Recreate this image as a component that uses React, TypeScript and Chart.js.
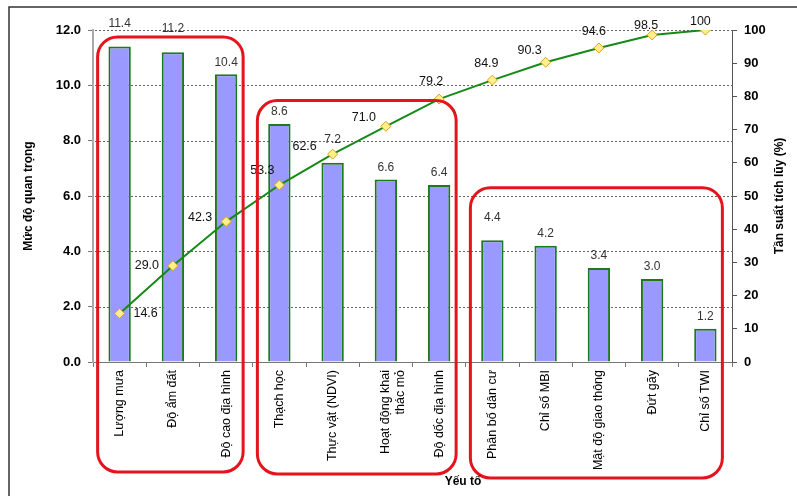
import React, { useEffect, useRef } from 'react';
import { Chart, registerables } from 'chart.js';

Chart.register(...registerables);

// ---- data ----
const categories: (string | string[])[] = [
  'Lượng mưa',
  'Độ ẩm đất',
  'Độ cao địa hình',
  'Thạch học',
  'Thực vật (NDVI)',
  ['Hoạt động khai', 'thác mỏ'],
  'Độ dốc địa hình',
  'Phân bố dân cư',
  'Chỉ số MBI',
  'Mật độ giao thông',
  'Đứt gãy',
  'Chỉ số TWI',
];
const importance = [11.4, 11.2, 10.4, 8.6, 7.2, 6.6, 6.4, 4.4, 4.2, 3.4, 3.0, 1.2];
const cumulative = [14.6, 29.0, 42.3, 53.3, 62.6, 71.0, 79.2, 84.9, 90.3, 94.6, 98.5, 100];
const cumulativeLabels = ['14.6', '29.0', '42.3', '53.3', '62.6', '71.0', '79.2', '84.9', '90.3', '94.6', '98.5', '100'];
const leftAxisMax = 12;
const leftAxisStep = 2;
const rightAxisMax = 100;
const rightAxisStep = 10;
// groups (category index ranges) outlined in red, top edge expressed in left-axis units
const groupFirst = [0, 3, 7];
const groupLast = [2, 6, 11];
const groupTopValue = [11.75, 9.45, 6.3];

// ---- styling (label placement) ----
const barLabelLift = [1, 1, 0, 0, 1, 0, 0, 1, 0, 0, 0, 0];
const lineLabelDx = [26, -26, -26, -17, -28, -22, -8, -6, -16, -5, -6, -5];
const lineLabelDy = [0, 0, -4, -14, -8, -9, -18, -17, -12, -16, -9, -8];
const groupBottomOffset = [110, 112, 116];

const FONT = '"Liberation Sans", Arial, sans-serif';

const gridPlugin = {
  id: 'dottedGrid',
  beforeDatasetsDraw(chart: any) {
    const ctx: CanvasRenderingContext2D = chart.ctx;
    const ys = chart.scales.y;
    const area = chart.chartArea;
    ctx.save();
    ctx.fillStyle = '#666';
    for (let v = leftAxisStep; v <= leftAxisMax; v += leftAxisStep) {
      const py = Math.round(ys.getPixelForValue(v));
      for (let px = Math.ceil(area.left) + 2; px < area.right; px += 4) {
        ctx.fillRect(px, py, 2, 1);
      }
    }
    ctx.restore();
  },
};

const overlayPlugin = {
  id: 'overlay',
  afterDraw(chart: any) {
    const ctx: CanvasRenderingContext2D = chart.ctx;
    const xs = chart.scales.x;
    const ys = chart.scales.y;
    const y1 = chart.scales.y1;
    const area = chart.chartArea;
    ctx.save();

    // bar value labels
    ctx.font = `12px ${FONT}`;
    ctx.fillStyle = '#333';
    ctx.textAlign = 'center';
    ctx.textBaseline = 'middle';
    importance.forEach((v, i) => {
      const px = xs.getPixelForValue(i);
      const py = ys.getPixelForValue(v) - 12 - barLabelLift[i] * 11;
      ctx.fillText(v.toFixed(1), px, py);
    });

    // cumulative labels
    ctx.font = `12.5px ${FONT}`;
    ctx.fillStyle = '#111';
    cumulative.forEach((v, i) => {
      const px = xs.getPixelForValue(i) + lineLabelDx[i];
      const py = y1.getPixelForValue(v) + lineLabelDy[i];
      ctx.fillText(cumulativeLabels[i], px, py);
    });

    // red rounded group outlines
    ctx.strokeStyle = '#E3141C';
    ctx.lineWidth = 3;
    groupFirst.forEach((f, g) => {
      const l = xs.getPixelForValue(f) - 22;
      const r = xs.getPixelForValue(groupLast[g]) + 17;
      const t = ys.getPixelForValue(groupTopValue[g]);
      const b = area.bottom + groupBottomOffset[g];
      ctx.beginPath();
      (ctx as any).roundRect(l, t, r - l, b - t, 20);
      ctx.stroke();
    });

    // axis titles
    ctx.fillStyle = '#000';
    ctx.font = `bold 12px ${FONT}`;
    const cy = (area.top + area.bottom) / 2;
    ctx.save();
    ctx.translate(29, cy);
    ctx.rotate(-Math.PI / 2);
    ctx.fillText('Mức độ quan trọng', 0, 0);
    ctx.restore();
    ctx.save();
    ctx.translate(780, cy);
    ctx.rotate(-Math.PI / 2);
    ctx.fillText('Tần suất tích lũy (%)', 0, 0);
    ctx.restore();
    ctx.fillText('Yếu tố', 463, 482);

    // frame
    ctx.strokeStyle = '#333';
    ctx.lineWidth = 1.5;
    ctx.beginPath();
    ctx.moveTo(9, chart.height);
    ctx.lineTo(9, 7);
    ctx.lineTo(chart.width, 7);
    ctx.stroke();

    ctx.restore();
  },
};

export default function App() {
  const ref = useRef<HTMLCanvasElement>(null);

  useEffect(() => {
    document.body.style.margin = '0';
    const canvas = ref.current;
    if (!canvas) return;
    Chart.defaults.font.family = FONT;
    const chart = new Chart(canvas, {
      data: {
        labels: categories,
        datasets: [
          {
            type: 'line',
            label: 'Tần suất tích lũy',
            data: cumulative,
            yAxisID: 'y1',
            order: 0,
            borderColor: '#168A16',
            borderWidth: 2,
            pointStyle: 'rectRot',
            pointRadius: 5,
            pointBackgroundColor: '#FFF08A',
            pointBorderColor: '#D9A21B',
            pointBorderWidth: 1,
            tension: 0,
          } as any,
          {
            type: 'bar',
            label: 'Mức độ quan trọng',
            data: importance,
            yAxisID: 'y',
            order: 1,
            backgroundColor: '#9999FF',
            borderColor: '#1B7A1B',
            borderWidth: 2,
            barPercentage: 0.42,
            categoryPercentage: 1,
          } as any,
        ],
      },
      options: {
        animation: false,
        responsive: false,
        maintainAspectRatio: false,
        layout: { padding: { top: 30, left: 0, right: 0, bottom: 0 } },
        plugins: {
          legend: { display: false },
          tooltip: { enabled: false },
        },
        scales: {
          x: {
            type: 'category',
            offset: true,
            grid: {
              offset: true,
              drawOnChartArea: false,
              tickLength: 5,
              color: '#777',
            },
            border: { color: '#777', width: 1 },
            ticks: {
              autoSkip: false,
              minRotation: 90,
              maxRotation: 90,
              padding: 3,
              color: '#000',
              font: { size: 12.5, family: FONT },
            },
            afterFit: (s: any) => {
              s.height = 134;
            },
          },
          y: {
            position: 'left',
            min: 0,
            max: leftAxisMax,
            ticks: {
              stepSize: leftAxisStep,
              callback: (v: any) => Number(v).toFixed(1),
              color: '#000',
              font: { size: 13, weight: 'bold', family: FONT },
              padding: 7,
            },
            grid: {
              drawOnChartArea: false,
              tickLength: 5,
              color: '#777',
            },
            border: { color: '#aaa', width: 2 },
            afterFit: (s: any) => {
              s.width = 93;
            },
          },
          y1: {
            position: 'right',
            min: 0,
            max: rightAxisMax,
            ticks: {
              stepSize: rightAxisStep,
              color: '#000',
              font: { size: 13, weight: 'bold', family: FONT },
              padding: 7,
            },
            grid: {
              drawOnChartArea: false,
              tickLength: 5,
              color: '#555',
            },
            border: { color: '#555', width: 1 },
            afterFit: (s: any) => {
              s.width = 65;
            },
          },
        },
      } as any,
      plugins: [gridPlugin, overlayPlugin],
    });
    return () => chart.destroy();
  }, []);

  return (
    <div style={{ width: 797, height: 496, background: '#fff' }}>
      <canvas ref={ref} width={797} height={496} style={{ width: 797, height: 496, display: 'block' }} />
    </div>
  );
}
